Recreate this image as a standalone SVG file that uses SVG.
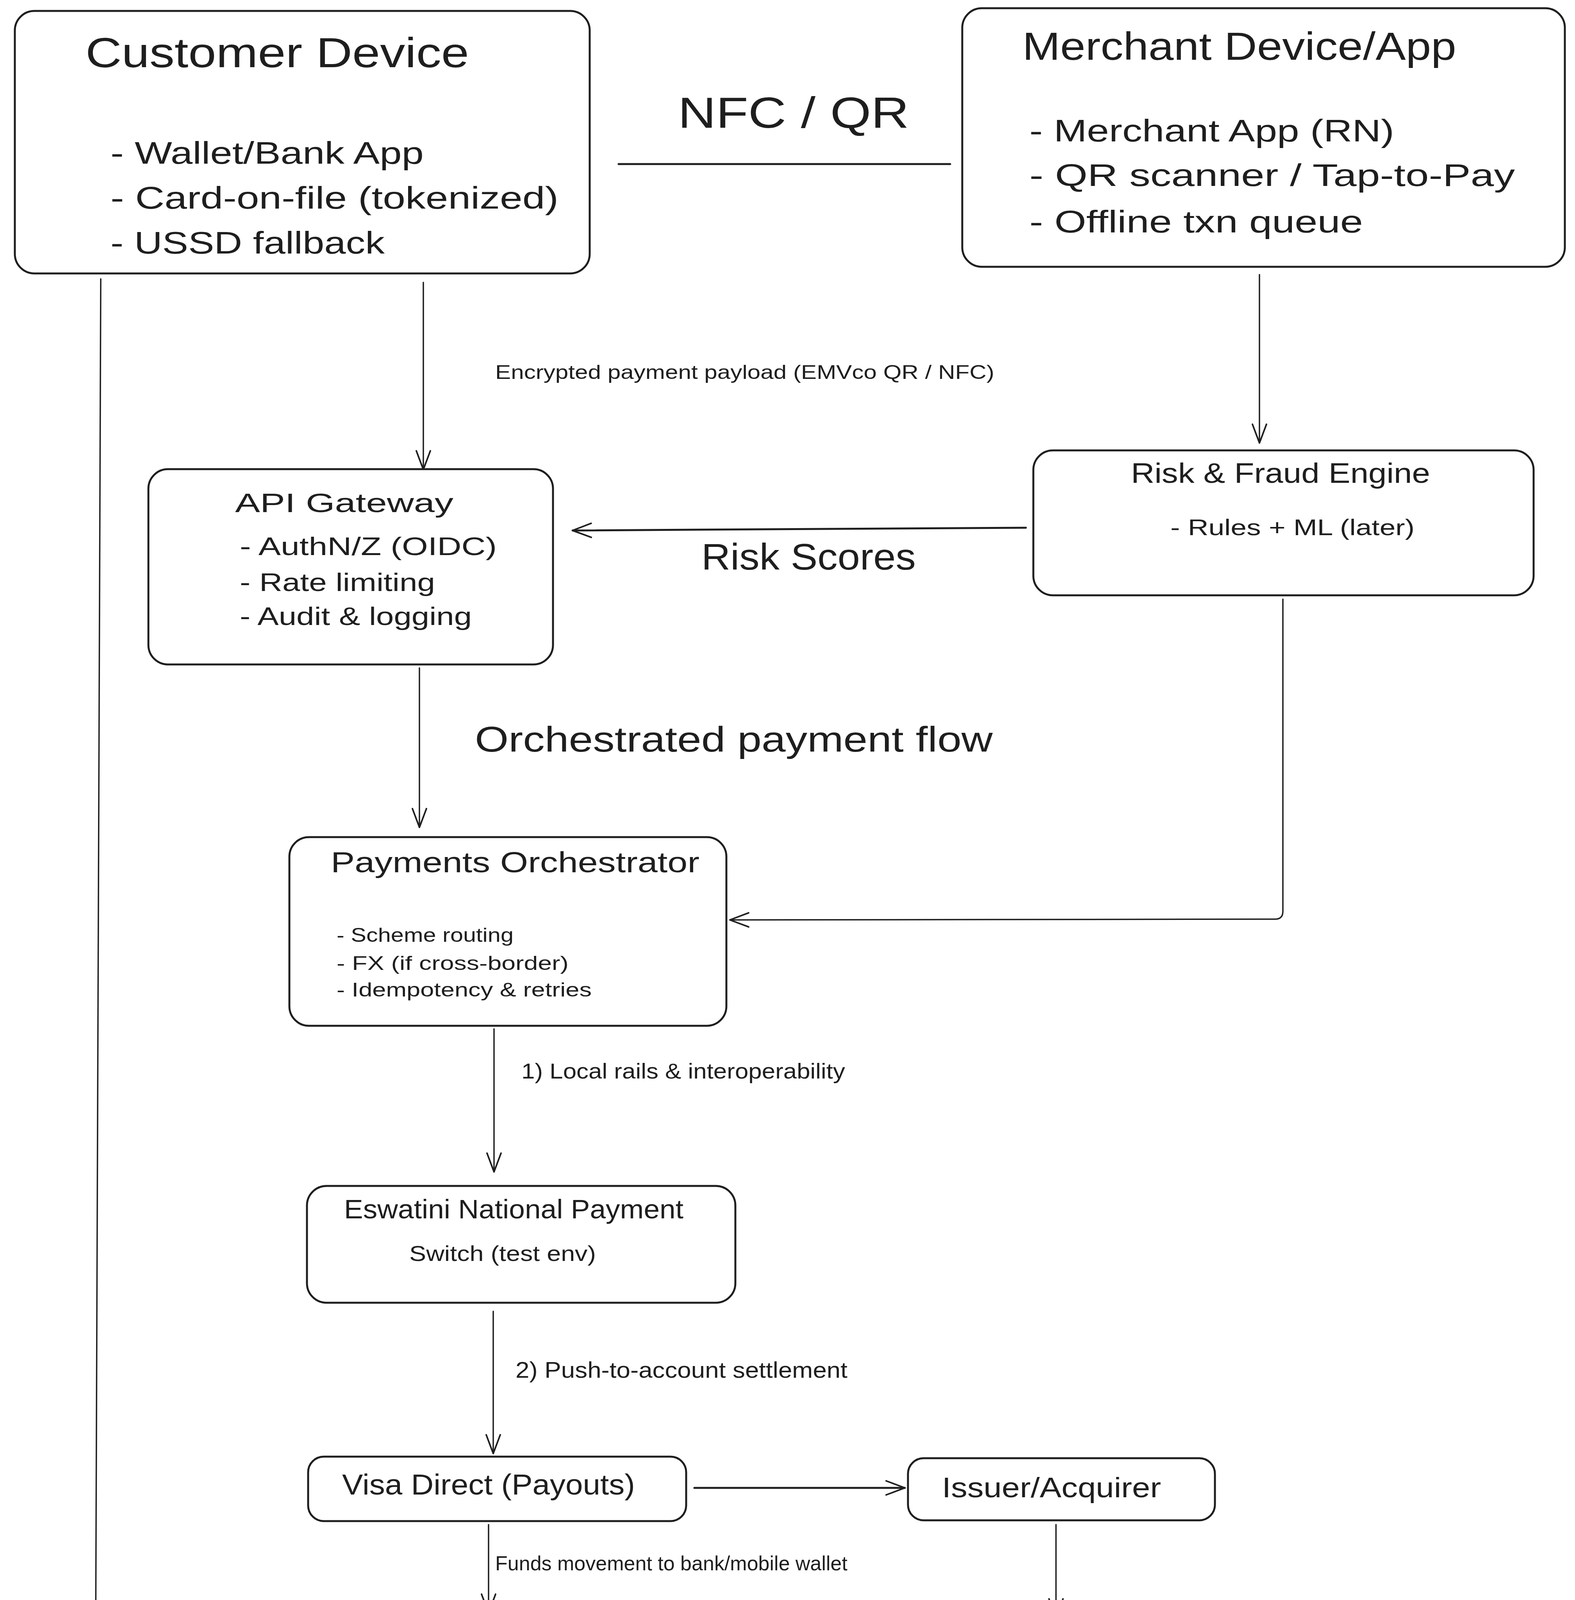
<svg xmlns="http://www.w3.org/2000/svg" width="4033" height="5293" viewBox="0 0 4033 5293">
<style>
.box{fill:#ffffff;stroke:#1e1e1e;stroke-width:5}
.t{font-family:"Liberation Sans","DejaVu Sans",sans-serif;fill:#1e1e1e}
.c{fill:none;stroke:#1e1e1e;stroke-width:3.5;stroke-linecap:round;stroke-linejoin:round}
.cb{stroke-width:5}
.ah{fill:none;stroke:#1e1e1e;stroke-width:4;stroke-linecap:round;stroke-linejoin:round}
</style>
<defs>
<marker id="arr" viewBox="-60 -30 70 60" refX="0" refY="0" markerWidth="70" markerHeight="60" markerUnits="userSpaceOnUse" orient="auto">
<path class="ah" d="M-48,-18 L0,0 L-48,18"/>
</marker>
</defs>
<rect x="0" y="0" width="4033" height="5293" fill="#ffffff"/>

<g id="connectors">
<path class="c cb" d="M1584,420 L2433,420"/>
<path class="c" d="M1084,723 L1084,1202" marker-end="url(#arr)"/>
<path class="c" d="M3225,703 L3225,1134" marker-end="url(#arr)"/>
<path class="c cb" d="M2627,1351 L1466,1358" marker-end="url(#arr)"/>
<path class="c" d="M1074,1710 L1074,2118" marker-end="url(#arr)"/>
<path class="c" d="M3285,1534 L3285,2333 Q3285,2353 3265,2353 L1869,2355" marker-end="url(#arr)"/>
<path class="c" d="M1265,2634 L1265,3000" marker-end="url(#arr)"/>
<path class="c" d="M1263,3357 L1263,3721" marker-end="url(#arr)"/>
<path class="c cb" d="M1778,3809 L2317,3809" marker-end="url(#arr)"/>
<path class="c" d="M1251,3903 L1251,4129" marker-end="url(#arr)"/>
<path class="c" d="M2704,3903 L2704,4141" marker-end="url(#arr)"/>
<path class="c" d="M258,714 L243,4710" marker-end="url(#arr)"/>
<text class="t" x="1736" y="327" font-size="112" textLength="592" lengthAdjust="spacingAndGlyphs">NFC / QR</text>
<text class="t" x="1268" y="970" font-size="50" textLength="1278" lengthAdjust="spacingAndGlyphs">Encrypted payment payload (EMVco QR / NFC)</text>
<text class="t" x="1796" y="1458" font-size="95" textLength="549" lengthAdjust="spacingAndGlyphs">Risk Scores</text>
<text class="t" x="1216" y="1924" font-size="90" textLength="1326" lengthAdjust="spacingAndGlyphs">Orchestrated payment flow</text>
<text class="t" x="1335" y="2761" font-size="56" textLength="829" lengthAdjust="spacingAndGlyphs">1) Local rails &amp; interoperability</text>
<text class="t" x="1320" y="3527" font-size="58" textLength="850" lengthAdjust="spacingAndGlyphs">2) Push-to-account settlement</text>
<text class="t" x="1268" y="4020" font-size="52" textLength="902" lengthAdjust="spacingAndGlyphs">Funds movement to bank/mobile wallet</text>
<text class="t" x="397" y="4642" font-size="56" textLength="480" lengthAdjust="spacingAndGlyphs">3) Data products</text>
</g>

<g id="customer-device">
<rect class="box" x="38" y="28" width="1472" height="672" rx="50"/>
<text class="t" x="219" y="172" font-size="108" textLength="982" lengthAdjust="spacingAndGlyphs">Customer Device</text>
<text class="t" x="283" y="419" font-size="80" textLength="802" lengthAdjust="spacingAndGlyphs">- Wallet/Bank App</text>
<text class="t" x="283" y="534" font-size="80" textLength="1147" lengthAdjust="spacingAndGlyphs">- Card-on-file (tokenized)</text>
<text class="t" x="283" y="649" font-size="80" textLength="702" lengthAdjust="spacingAndGlyphs">- USSD fallback</text>
</g>

<g id="merchant-device">
<rect class="box" x="2464" y="21" width="1543" height="662" rx="50"/>
<text class="t" x="2618" y="153" font-size="100" textLength="1111" lengthAdjust="spacingAndGlyphs">Merchant Device/App</text>
<text class="t" x="2636" y="362" font-size="80" textLength="934" lengthAdjust="spacingAndGlyphs">- Merchant App (RN)</text>
<text class="t" x="2636" y="476" font-size="80" textLength="1243" lengthAdjust="spacingAndGlyphs">- QR scanner / Tap-to-Pay</text>
<text class="t" x="2636" y="595" font-size="80" textLength="854" lengthAdjust="spacingAndGlyphs">- Offline txn queue</text>
</g>

<g id="risk-engine">
<rect class="box" x="2646" y="1153" width="1281" height="371" rx="50"/>
<text class="t" x="2896" y="1236" font-size="72" textLength="766" lengthAdjust="spacingAndGlyphs">Risk &amp; Fraud Engine</text>
<text class="t" x="2997" y="1370" font-size="58" textLength="625" lengthAdjust="spacingAndGlyphs">- Rules + ML (later)</text>
</g>

<g id="api-gateway">
<rect class="box" x="380" y="1201" width="1036" height="500" rx="50"/>
<text class="t" x="602" y="1311" font-size="68" textLength="559" lengthAdjust="spacingAndGlyphs">API Gateway</text>
<text class="t" x="614" y="1421" font-size="64" textLength="658" lengthAdjust="spacingAndGlyphs">- AuthN/Z (OIDC)</text>
<text class="t" x="614" y="1513" font-size="64" textLength="500" lengthAdjust="spacingAndGlyphs">- Rate limiting</text>
<text class="t" x="614" y="1600" font-size="64" textLength="594" lengthAdjust="spacingAndGlyphs">- Audit &amp; logging</text>
</g>

<g id="payments-orchestrator">
<rect class="box" x="741" y="2143" width="1119" height="483" rx="50"/>
<text class="t" x="847" y="2233" font-size="74" textLength="944" lengthAdjust="spacingAndGlyphs">Payments Orchestrator</text>
<text class="t" x="862" y="2411" font-size="50" textLength="453" lengthAdjust="spacingAndGlyphs">- Scheme routing</text>
<text class="t" x="862" y="2483" font-size="50" textLength="594" lengthAdjust="spacingAndGlyphs">- FX (if cross-border)</text>
<text class="t" x="862" y="2551" font-size="50" textLength="653" lengthAdjust="spacingAndGlyphs">- Idempotency &amp; retries</text>
</g>

<g id="eswatini-switch">
<rect class="box" x="786" y="3036" width="1097" height="299" rx="50"/>
<text class="t" x="881" y="3119" font-size="68" textLength="869" lengthAdjust="spacingAndGlyphs">Eswatini National Payment</text>
<text class="t" x="1048" y="3228" font-size="56" textLength="478" lengthAdjust="spacingAndGlyphs">Switch (test env)</text>
</g>

<g id="visa-direct">
<rect class="box" x="789" y="3729" width="968" height="165" rx="40"/>
<text class="t" x="876" y="3826" font-size="74" textLength="750" lengthAdjust="spacingAndGlyphs">Visa Direct (Payouts)</text>
</g>

<g id="issuer-acquirer">
<rect class="box" x="2325" y="3733" width="786" height="159" rx="40"/>
<text class="t" x="2412" y="3833" font-size="72" textLength="561" lengthAdjust="spacingAndGlyphs">Issuer/Acquirer</text>
</g>

<g id="settlement">
<rect class="box" x="795" y="4165" width="1084" height="317" rx="50"/>
<text class="t" x="858" y="4250" font-size="72" textLength="956" lengthAdjust="spacingAndGlyphs">Settlement &amp; Reconciliation</text>
<text class="t" x="1013" y="4387" font-size="68" textLength="637" lengthAdjust="spacingAndGlyphs">- T+0/T+1 configs</text>
</g>

<g id="bank-mobile-money">
<rect class="box" x="2322" y="4190" width="830" height="264" rx="50"/>
<text class="t" x="2382" y="4287" font-size="74" textLength="715" lengthAdjust="spacingAndGlyphs">Bank / Mobile Money</text>
<text class="t" x="2486" y="4381" font-size="58" textLength="508" lengthAdjust="spacingAndGlyphs">Account (Merchant</text>
</g>

<g id="analytics-engine">
<rect class="box" x="20" y="4743" width="1294" height="528" rx="50"/>
<text class="t" x="210" y="4844" font-size="68" textLength="881" lengthAdjust="spacingAndGlyphs">Analytics &amp; Score Engine</text>
<text class="t" x="254" y="4972" font-size="76" textLength="634" lengthAdjust="spacingAndGlyphs">- Sales dashboard</text>
<text class="t" x="254" y="5065" font-size="76" textLength="864" lengthAdjust="spacingAndGlyphs">- SME risk/credit scores</text>
<text class="t" x="254" y="5157" font-size="76" textLength="724" lengthAdjust="spacingAndGlyphs">- Tax-ready exports</text>
</g>
</svg>
